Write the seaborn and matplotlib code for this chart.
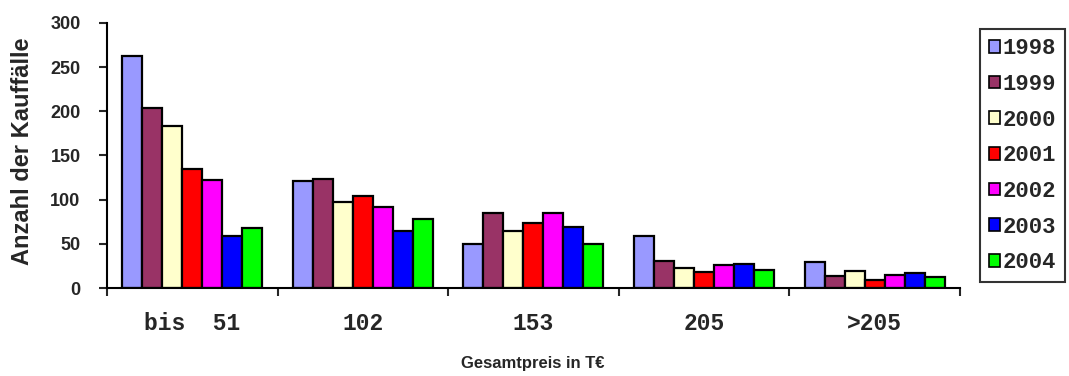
import matplotlib
matplotlib.use("Agg")
import matplotlib.pyplot as plt
import seaborn as sns
import pandas as pd
import numpy as np

categories = ["bis  51", "102", "153", "205", ">205"]
years = ["1998", "1999", "2000", "2001", "2002", "2003", "2004"]
v1998 = [263, 121, 50, 59, 30]
v1999 = [204, 123, 85, 31, 14]
v2000 = [183, 97, 64, 23, 19]
v2001 = [135, 104, 74, 18, 9]
v2002 = [122, 92, 85, 26, 15]
v2003 = [59, 64, 69, 27, 17]
v2004 = [68, 78, 50, 20, 13]
colors = ["#9999FF", "#993366", "#FFFFCC", "#FF0000", "#FF00FF", "#0000FF", "#00FF00"]

series = [v1998, v1999, v2000, v2001, v2002, v2003, v2004]
rows = []
for y, vals in zip(years, series):
    for c, v in zip(categories, vals):
        rows.append({"Preis": c, "Jahr": y, "Anzahl": v})
df = pd.DataFrame(rows)

sns.set_style("white")
fig = plt.figure(figsize=(10.69, 3.76), dpi=100)
ax = fig.add_axes([0.100, 0.234, 0.798, 0.705])

sns.barplot(data=df, x="Preis", y="Anzahl", hue="Jahr", order=categories,
            hue_order=years, palette=colors, width=0.82, saturation=1,
            edgecolor="black", linewidth=1.6, ax=ax, legend=False)

ax.set_xlim(-0.5, 4.5)
ax.set_ylim(0, 300)
ax.set_yticks([0, 50, 100, 150, 200, 250, 300])
for s in ["top", "right"]:
    ax.spines[s].set_visible(False)
for s in ["left", "bottom"]:
    ax.spines[s].set_linewidth(1.5)
    ax.spines[s].set_color("black")

ax.tick_params(axis="y", direction="out", length=6, width=1.5, left=True,
               labelsize=13, pad=13)
ax.tick_params(axis="x", which="major", length=0, pad=17)
ax.set_xticks(np.arange(-0.5, 5.0, 1.0), minor=True)
ax.tick_params(axis="x", which="minor", direction="out", length=6, width=1.5, bottom=True)
for t in ax.get_yticklabels():
    t.set_fontfamily("Liberation Sans")
    t.set_fontweight("bold")
for t in ax.get_xticklabels():
    t.set_fontfamily("Liberation Mono")
    t.set_fontweight("bold")
    t.set_fontsize(16.5)

ax.set_xlabel("Gesamtpreis in T€", fontsize=12, fontweight="bold",
              fontfamily="Liberation Sans")
ax.xaxis.set_label_coords(0.4995, -0.256)
ax.set_ylabel("Anzahl der Kauffälle", fontsize=17, fontweight="bold",
              fontfamily="Liberation Sans")
ax.yaxis.set_label_coords(-0.086, 0.515)

handles = [plt.Rectangle((0, 0), 1, 1, facecolor=c, edgecolor="black", linewidth=1.2)
           for c in colors]
leg = fig.legend(handles, years, loc="upper left", bbox_to_anchor=(0.917, 0.922),
                 frameon=True, fancybox=False, edgecolor="black",
                 prop={"family": "Liberation Mono", "weight": "bold", "size": 16},
                 handlelength=0.5, handleheight=0.5, handletextpad=0.1,
                 labelspacing=0.66, borderpad=0.4, borderaxespad=0)
leg.get_frame().set_linewidth(1.5)

fig.savefig("out.png", dpi=100)
